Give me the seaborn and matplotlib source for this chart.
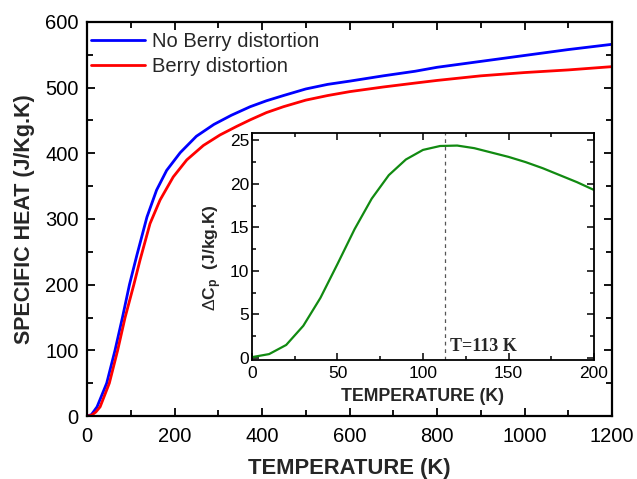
import matplotlib
matplotlib.use("Agg")
import matplotlib.pyplot as plt
import seaborn as sns
import pandas as pd
from matplotlib.ticker import MultipleLocator

# ---- data ----
t_noberry = [0, 10, 23, 45, 64, 81, 97, 114, 137, 159, 182, 213, 250, 290, 330,
             373, 410, 449, 500, 550, 601, 677, 750, 800, 900, 1000, 1100, 1200]
cp_noberry = [0, 2, 14, 50, 100, 150, 200, 245, 303, 344, 374, 401, 426, 444, 458,
              471, 480, 488, 498, 505, 510, 518, 525, 531, 540, 549, 558, 566]

t_berry = [0, 10, 20, 30, 51, 70, 87, 107, 121, 144, 167, 197, 228, 266, 304, 342,
           373, 410, 449, 500, 550, 601, 677, 750, 800, 900, 1000, 1100, 1200]
cp_berry = [0, 1, 6, 14, 50, 100, 150, 200, 237, 293, 329, 364, 390, 412, 428, 441,
            451, 462, 471, 481, 488, 494, 501, 507, 511, 518, 523, 527, 532]

t_inset = [0, 10, 20, 30, 40, 50, 60, 70, 80, 90, 100, 110, 120, 130, 140, 150,
           160, 170, 180, 190, 200]
dcp_inset = [0.1, 0.45, 1.5, 3.7, 6.9, 10.8, 14.8, 18.3, 21.0, 22.8, 23.9, 24.35,
             24.4, 24.1, 23.6, 23.1, 22.5, 21.8, 21.0, 20.2, 19.3]

t_peak = 113
labels = ["No Berry distortion", "Berry distortion"]

sns.set_style("ticks")
plt.rcParams['font.family'] = ['Liberation Sans', 'DejaVu Sans']
plt.rcParams['mathtext.fontset'] = 'custom'
plt.rcParams['mathtext.rm'] = 'Liberation Sans'
plt.rcParams['mathtext.bf'] = 'Liberation Sans:bold'
plt.rcParams['mathtext.it'] = 'Liberation Sans:italic'

fig = plt.figure(figsize=(6.37, 4.79), dpi=100)
ax = fig.add_axes([0.1366, 0.1315, 0.8242, 0.8226])

df_nb = pd.DataFrame({"T": t_noberry, "Cp": cp_noberry})
df_b = pd.DataFrame({"T": t_berry, "Cp": cp_berry})
sns.lineplot(data=df_nb, x="T", y="Cp", ax=ax, color="#0000ff", lw=2.0,
             label=labels[0], sort=False)
sns.lineplot(data=df_b, x="T", y="Cp", ax=ax, color="#ff0000", lw=2.0,
             label=labels[1], sort=False)

ax.set_xlim(0, 1200)
ax.set_ylim(0, 600)
ax.xaxis.set_major_locator(MultipleLocator(200))
ax.xaxis.set_minor_locator(MultipleLocator(100))
ax.yaxis.set_major_locator(MultipleLocator(100))
ax.yaxis.set_minor_locator(MultipleLocator(50))
ax.tick_params(which='both', direction='in', top=True, right=True, width=1.3,
               colors='black')
ax.tick_params(which='major', length=6)
ax.tick_params(which='minor', length=4)
ax.tick_params(axis='x', which='major', labelsize=14.5, pad=8)
ax.tick_params(axis='y', which='major', labelsize=14.5, pad=6)
for s in ax.spines.values():
    s.set_linewidth(1.6)
    s.set_color('black')

ax.set_xlabel("TEMPERATURE (K)", fontsize=15.8, fontweight='bold', va='center')
ax.xaxis.set_label_coords(0.5, -0.132)
ax.set_ylabel("SPECIFIC HEAT (J/Kg.K)", fontsize=15.5, fontweight='bold', va='center')
ax.yaxis.set_label_coords(-0.12, 0.5)

ax.legend(loc='upper left', bbox_to_anchor=(0.0, 0.985), frameon=False,
          fontsize=14.5, handlelength=2.64, handletextpad=0.35, borderaxespad=0.0,
          borderpad=0.22, labelspacing=0.3)

# ---- inset ----
axi = fig.add_axes([0.3956, 0.2484, 0.5369, 0.4739])
df_i = pd.DataFrame({"T": t_inset, "dCp": dcp_inset})
sns.lineplot(data=df_i, x="T", y="dCp", ax=axi, color="#118a11", lw=1.6)
axi.axvline(t_peak, color="#555555", lw=0.9, ls=(0, (3, 3)))
axi.text(t_peak + 2.6, 0.75, "T=%d K" % t_peak, fontsize=13, fontweight='bold',
         family=['Liberation Serif', 'DejaVu Serif'], ha='left', va='baseline')

axi.set_xlim(0, 200)
axi.set_ylim(-0.23, 25.84)
axi.xaxis.set_major_locator(MultipleLocator(50))
axi.xaxis.set_minor_locator(MultipleLocator(25))
axi.yaxis.set_major_locator(MultipleLocator(5))
axi.yaxis.set_minor_locator(MultipleLocator(2.5))
axi.tick_params(which='both', direction='in', top=True, right=True, width=1.1,
                colors='black')
axi.tick_params(which='major', length=5)
axi.tick_params(which='minor', length=3)
axi.tick_params(axis='x', which='major', labelsize=12.5, pad=4)
axi.tick_params(axis='y', which='major', labelsize=12.5, pad=2)
for s in axi.spines.values():
    s.set_linewidth(1.3)
    s.set_color('black')

axi.set_xlabel("TEMPERATURE (K)", fontsize=12.8, fontweight='bold', va='center')
axi.xaxis.set_label_coords(0.5, -0.161)
axi.set_ylabel(r"$\Delta\mathbf{C}_\mathbf{p}$  (J/kg.K)", fontsize=12.5,
               fontweight='bold', va='center')
axi.yaxis.set_label_coords(-0.115, 0.45)

fig.savefig("out.png", dpi=100)
